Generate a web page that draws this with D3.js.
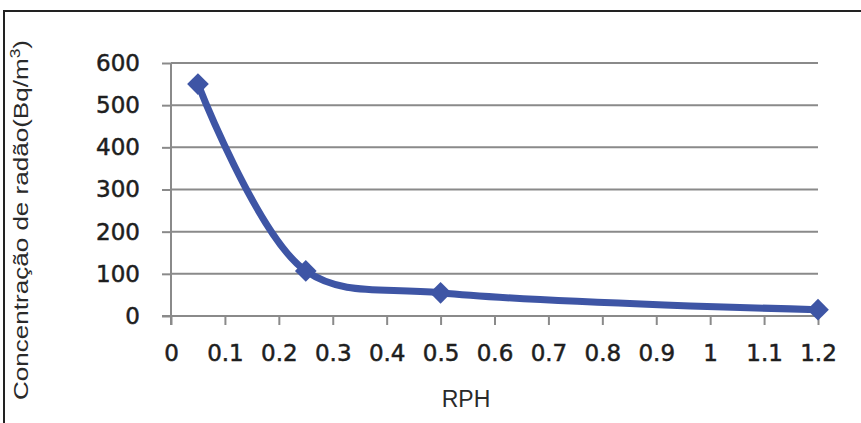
<!DOCTYPE html>
<html><head><meta charset="utf-8">
<script src="https://cdn.jsdelivr.net/npm/d3@7/dist/d3.min.js"></script>
<style>body{margin:0;background:#fff}svg{display:block}</style>
</head><body>
<svg id="c" width="861" height="423"></svg>
<script>
const rph = [0.05, 0.25, 0.5, 1.2];
const radon = [550, 107, 55, 15];
const xTicks = [0,0.1,0.2,0.3,0.4,0.5,0.6,0.7,0.8,0.9,1,1.1,1.2];
const yTicks = [0,100,200,300,400,500,600];
const xTitle = "RPH";
const yTitle = "Concentração de radão(Bq/m";

const svg = d3.select("#c");
const x = d3.scaleLinear().domain([0,1.2]).range([171,818]);
const y = d3.scaleLinear().domain([0,600]).range([316,63]);
const grey = "#8a8a8a", blue = "#3e55a5", ink = "#1e1e1e";

// frame
svg.append("path").attr("d","M4,423V11H861").attr("fill","none").attr("stroke","#222").attr("stroke-width",2);

// gridlines
svg.append("g").selectAll("line").data(yTicks.filter(d=>d>0)).join("line")
  .attr("x1",x(0)).attr("x2",x(1.2)).attr("y1",d=>y(d)).attr("y2",d=>y(d))
  .attr("stroke",grey).attr("stroke-width",2);

// y axis
const ya = svg.append("g").attr("transform",`translate(${x(0)},0)`)
  .call(d3.axisLeft(y).tickValues(yTicks).tickSize(9).tickPadding(22).tickFormat(d3.format("d")));
ya.select(".domain").attr("d",`M-0,${y(0)+9}V${y(600)}`).attr("stroke",grey).attr("stroke-width",2);
ya.selectAll(".tick line").attr("stroke",grey).attr("stroke-width",2);
ya.selectAll("text").attr("font-family","DejaVu Sans").attr("font-size",23).attr("fill",ink)
  .attr("stroke",ink).attr("stroke-width",0.5);

// x axis
const xa = svg.append("g").attr("transform",`translate(0,${y(0)})`)
  .call(d3.axisBottom(x).tickValues(xTicks).tickSize(9).tickPadding(20).tickFormat(d=>String(+d.toFixed(1))));
xa.select(".domain").attr("d",`M${x(0)-9},0H${x(1.2)}`).attr("stroke",grey).attr("stroke-width",2);
xa.selectAll(".tick line").attr("stroke",grey).attr("stroke-width",2);
xa.selectAll("text").attr("font-family","DejaVu Sans").attr("font-size",23).attr("fill",ink)
  .attr("stroke",ink).attr("stroke-width",0.5);

// titles
svg.append("text").attr("x",466).attr("y",407).attr("text-anchor","middle")
  .attr("font-family","Liberation Sans").attr("font-size",23).attr("fill","#2a2a2a").text(xTitle);
const yt = svg.append("text").attr("transform","translate(28,220) rotate(-90)").attr("text-anchor","middle")
  .attr("font-family","Liberation Sans").attr("font-size",21).attr("fill","#2a2a2a")
  .attr("textLength",360).attr("lengthAdjust","spacingAndGlyphs");
yt.append("tspan").text(yTitle);
yt.append("tspan").attr("baseline-shift","super").attr("font-size",14).text("3");
yt.append("tspan").text(")");

// line
const pts = rph.map((d,i)=>[d,radon[i]]);
svg.append("path").datum(pts)
  .attr("d",d3.line().x(d=>x(d[0])).y(d=>y(d[1])).curve(d3.curveCatmullRom.alpha(0.5)))
  .attr("fill","none").attr("stroke",blue).attr("stroke-width",7).attr("stroke-linejoin","round");

// markers
svg.append("g").selectAll("path").data(pts).join("path")
  .attr("transform",d=>`translate(${x(d[0])},${y(d[1])})`)
  .attr("d",d3.symbol(d3.symbolDiamond2, 300)())
  .attr("fill",blue);
</script>
</body></html>
